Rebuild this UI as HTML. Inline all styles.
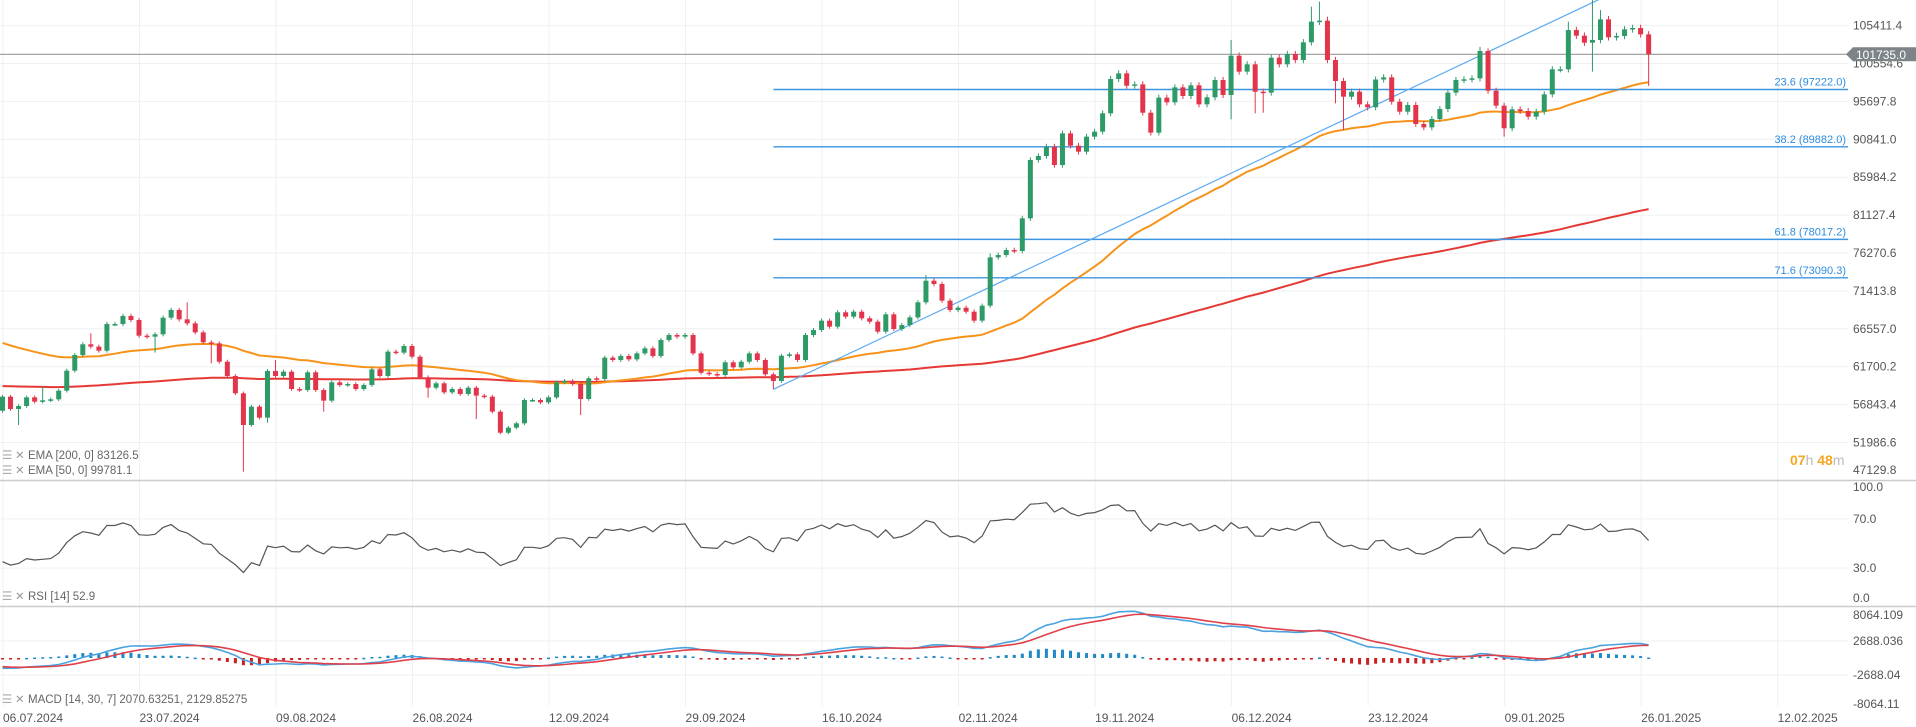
<!DOCTYPE html>
<html><head><meta charset="utf-8"><style>
html,body{margin:0;padding:0;background:#fff;}
svg{display:block;font-family:"Liberation Sans",sans-serif;}
</style></head><body>
<svg id="chart" width="1916" height="727" viewBox="0 0 1916 727" xmlns="http://www.w3.org/2000/svg"></svg>
<script>
const closes=[57860,56280,56660,57770,57220,57390,57520,58630,61190,63200,
64570,64270,63750,67170,67170,68200,67680,65680,65550,65850,
67980,68970,67770,67260,66100,64820,64690,62340,60510,58290,
54230,56580,55170,61150,60510,61060,58840,58710,60980,58710,
57350,59700,59350,59480,58840,59350,61360,60510,63630,63500,
64350,62980,60340,59010,59570,58410,58840,58200,59010,57990,
57860,55940,53240,53890,54440,57430,57430,57130,57770,59690,
59870,59480,57560,60210,60120,62860,62560,63070,62640,63410,
64050,63070,65120,65760,65550,65760,63410,60930,60760,60630,
62260,61620,62340,63410,62560,60720,59870,63110,63280,62560,
65760,66400,67600,66830,68670,68110,68750,67900,67470,66190,
68410,66530,67040,68020,69950,72720,72300,70160,68960,69260,
68750,67600,69520,75710,76010,76650,76530,80710,88190,88700,
89900,87550,91600,90020,89250,91180,91820,94170,98570,99290,
97710,97880,94250,91690,96180,95580,97500,96390,97760,95320,
96220,98440,96520,101560,99510,100450,96940,96820,101300,100450,
101770,101000,103270,105920,106040,101000,98310,96300,96940,95320,
94940,98500,98780,95660,94380,95240,92800,92370,93440,94720,
96820,98440,98530,98650,102160,97070,95150,92250,94680,94470,
93740,94380,96600,99810,99810,104840,104120,103220,103570,106210,
103910,104080,104930,105100,104290,101735];
const firstOpen=56060;
const highOverrides={5:59140,11:65980,23:69950,34:62560,115:73450,123:76200,153:103570,163:107840,164:108480,165:106560,184:102700,185:102500,195:105920,198:108690,199:107410};
const lowOverrides={2:54230,19:63500,26:62130,30:48250,33:54530,40:55940,53:57730,59:55000,72:55500,96:58800,153:93400,156:94170,157:94250,166:95450,167:92030,187:91180,198:99510,205:97670};
const priceTicks=["105411.4","100554.6","95697.8","90841.0","85984.2","81127.4","76270.6","71413.8","66557.0","61700.2","56843.4","51986.6","47129.8"];
const dateLabels=["06.07.2024","23.07.2024","09.08.2024","26.08.2024","12.09.2024","29.09.2024","16.10.2024","02.11.2024","19.11.2024","06.12.2024","23.12.2024","09.01.2025","26.01.2025","12.02.2025"];
const fibLevels=[97222.0,89882.0,78017.2,73090.3];
const fibNames=["23.6","38.2","61.8","71.6"];
const rsiTicks=[100,70,30,0];
const macdTicks=["8064.109","2688.036","-2688.04","-8064.11"];
const lastPrice=101735.0;
const fibStart=[96,58800];
const fibEnd=[199.5,109087];
const ema50Seed=65035, ema200Seed=59225;

const NS="http://www.w3.org/2000/svg";
const svg=document.getElementById('chart');
function mk(tag,attrs,parent){const e=document.createElementNS(NS,tag);for(const k in attrs)e.setAttribute(k,attrs[k]);(parent||svg).appendChild(e);return e;}
const xK=k=>2.5+8.03*k;
const yP=p=>25.6+(105411.4-p)/128.15;
const yR=v=>482+(100-v)*1.23;
const yM=v=>658-v*0.00632;
const RIGHT=1848;

// grid
const grid=mk('g',{});


dateLabels.forEach((d,i)=>{const x=3+8.03*17*i;
 mk('line',{x1:x,x2:x,y1:0,y2:706,stroke:'#eef0f2','stroke-width':1},grid);});
priceTicks.forEach(t=>{const y=yP(parseFloat(t));mk('line',{x1:0,x2:RIGHT,y1:y,y2:y,stroke:'#eef0f2'},grid);});
[70,30].forEach(v=>mk('line',{x1:0,x2:RIGHT,y1:yR(v),y2:yR(v),stroke:'#eef0f2'},grid));
[2688,-2688].forEach(v=>mk('line',{x1:0,x2:RIGHT,y1:yM(v),y2:yM(v),stroke:'#eef0f2'},grid));
mk('line',{x1:0,x2:1916,y1:480.5,y2:480.5,stroke:'#ccc','stroke-width':1.5},grid);
mk('line',{x1:0,x2:1916,y1:606.5,y2:606.5,stroke:'#ccc','stroke-width':1.5},grid);

// EMAs
function ema(seed,n){const a=2/(n+1);let e=seed;return closes.map(c=>{e=e+a*(c-e);return e;});}
const e50=ema(ema50Seed,50), e200=ema(ema200Seed,200);
function pathOf(arr,yf){return arr.map((v,k)=>(k?'L':'M')+xK(k).toFixed(1)+' '+yf(v).toFixed(1)).join(' ');}
const l200=mk('path',{d:pathOf(e200,yP),fill:'none',stroke:'#e53935','stroke-width':2});


const l50=mk('path',{d:pathOf(e50,yP),fill:'none',stroke:'#f7931a','stroke-width':2});



// fib
const fibG=mk('g',{});


const fx0=xK(fibStart[0]);
fibLevels.forEach((lv,i)=>{const y=yP(lv);
 const ln=mk('line',{x1:fx0,x2:RIGHT,y1:y,y2:y,stroke:'#3d95e0','stroke-width':1.4},fibG);
 
 
 const t=mk('text',{x:RIGHT-2,y:y-4,'text-anchor':'end','font-size':11,fill:'#2f8de0'},fibG);
 t.textContent=fibNames[i]+' ('+lv.toFixed(1)+')';
 
 });
const tl=mk('line',{x1:fx0,y1:yP(fibStart[1]),x2:xK(fibEnd[0]),y2:yP(fibEnd[1]),stroke:'#5aaaf0','stroke-width':1.2},fibG);



// last price line
const lp=mk('line',{x1:0,x2:RIGHT,y1:yP(lastPrice),y2:yP(lastPrice),stroke:'#9a9a9a','stroke-width':1.2});



// candles
const cg=mk('g',{});


closes.forEach((c,k)=>{
 const o=k?closes[k-1]:firstOpen;
 const up=c>=o;const col=up?'#2e9a68':'#e2354b';
 const hi=highOverrides[k]!==undefined?highOverrides[k]:Math.max(o,c)*1.004;
 const lo=lowOverrides[k]!==undefined?lowOverrides[k]:Math.min(o,c)*0.996;
 const x=xK(k);
 const g=mk('g',{},cg);
 
 
 mk('line',{x1:x,x2:x,y1:yP(hi),y2:yP(lo),stroke:col,'stroke-width':1},g);
 const yt=yP(Math.max(o,c)),yb=yP(Math.min(o,c));
 mk('rect',{x:x-2.5,y:yt,width:5,height:Math.max(1.5,yb-yt),fill:col},g);
});

// RSI
const rsi=[];{let ag=500,al=920;closes.forEach((c,k)=>{if(k>0){const d=c-closes[k-1];ag=(ag*13+Math.max(d,0))/14;al=(al*13+Math.max(-d,0))/14;}rsi.push(100-100/(1+ag/al));});}
const rl=mk('path',{d:pathOf(rsi,yR),fill:'none',stroke:'#555','stroke-width':1.2});



// MACD
const ef=[],es=[];{let a=57700,b=59440;closes.forEach(c=>{a+=2/15*(c-a);b+=2/31*(c-b);ef.push(a);es.push(b);});}
const macd=ef.map((v,i)=>v-es[i]);
const sig=[];{let s=-1300;macd.forEach(m=>{s+=2/8*(m-s);sig.push(s);});}
const hg=mk('g',{});


macd.forEach((m,k)=>{const h=m-sig[k];const y0=yM(0),y1=yM(h);
 const b=mk('rect',{x:xK(k)-1.5,y:Math.min(y0,y1),width:3,height:Math.max(1.5,Math.abs(y1-y0)),fill:h>=0?'#1e88c8':'#cc1f1f'},hg);
 
 });
const ml=mk('path',{d:pathOf(macd,yM),fill:'none',stroke:'#4aa3e0','stroke-width':1.6});


const sl=mk('path',{d:pathOf(sig,yM),fill:'none',stroke:'#e0404a','stroke-width':1.6});



// axis labels
const ax=mk('g',{'font-size':12,fill:'#555'});


priceTicks.forEach(t=>{const tx=mk('text',{x:1853,y:Math.min(yP(parseFloat(t))+4,474)},ax);tx.textContent=t;
 
 });
rsiTicks.forEach(v=>{const yy=v===100?491:(v===0?602:yR(v)+4);const tx=mk('text',{x:1853,y:yy},ax);tx.textContent=v.toFixed(1);
 
 });
const mY=[615,641,675,704];
macdTicks.forEach((t,i)=>{const tx=mk('text',{x:1853,y:mY[i]+4},ax);tx.textContent=t;
 
 });
dateLabels.forEach((d,i)=>{const tx=mk('text',{x:3+8.03*17*i,y:722},ax);tx.textContent=d;
 
 });

// price tag
const tag=mk('g',{});


const ty=yP(lastPrice);
mk('path',{d:`M1846 ${ty} L1853 ${ty-7} L1916 ${ty-7} L1916 ${ty+7} L1853 ${ty+7} Z`,fill:'#7d8488'},tag);
const tt=mk('text',{x:1856,y:ty+4.5,'font-size':12,fill:'#fff'},tag);tt.textContent=lastPrice.toFixed(1);

// timer
const tm=mk('text',{x:1790,y:465,'font-size':14,'font-weight':'bold',fill:'#f5a623'});


tm.innerHTML='07<tspan fill="#bbb" font-weight="normal">h</tspan> 48<tspan fill="#bbb" font-weight="normal">m</tspan>';

// legends
function legend(y,txt,name){const g=mk('g',{'font-size':11.5,fill:'#666'});
 
 
 mk('text',{x:2,y:y,fill:'#aaa'},g).textContent='☰';
 mk('text',{x:15,y:y,fill:'#999'},g).textContent='✕';
 mk('text',{x:28,y:y},g).textContent=txt;}
legend(459,'EMA [200,  0]  83126.5','ema-200-legend');
legend(474,'EMA [50,  0]  99781.1','ema-50-legend');
legend(600,'RSI [14]  52.9','rsi-legend');
legend(703,'MACD [14, 30, 7]  2070.63251,   2129.85275','macd-legend');
</script>
</body></html>
